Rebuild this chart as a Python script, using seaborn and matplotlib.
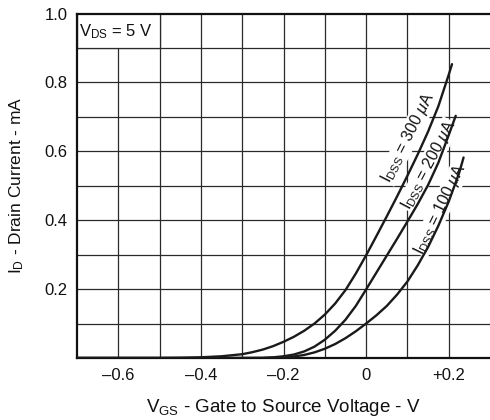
import matplotlib
matplotlib.use("Agg")
import matplotlib.pyplot as plt
import seaborn as sns
import pandas as pd
from matplotlib.patches import Rectangle

# ---- data ----
vgs_300 = [-0.70, -0.50, -0.45, -0.40, -0.35, -0.30, -0.275, -0.25, -0.225, -0.20, -0.175, -0.15,
           -0.125, -0.10, -0.075, -0.05, -0.025, 0.0, 0.025, 0.05, 0.075, 0.10, 0.125, 0.15,
           0.175, 0.20, 0.208]
id_300 = [0.0, 0.0, 0.0005, 0.002, 0.005, 0.011, 0.017, 0.0245, 0.0345, 0.047, 0.0615, 0.079,
          0.100, 0.126, 0.158, 0.197, 0.245, 0.298, 0.354, 0.411, 0.469, 0.529, 0.591, 0.657,
          0.731, 0.822, 0.853]

vgs_200 = [-0.70, -0.30, -0.25, -0.225, -0.20, -0.175, -0.15, -0.125, -0.10, -0.075, -0.05,
           -0.025, 0.0, 0.025, 0.05, 0.075, 0.10, 0.125, 0.15, 0.175, 0.20, 0.217]
id_200 = [0.0, 0.0, 0.0005, 0.002, 0.005, 0.010, 0.019, 0.033, 0.053, 0.079, 0.111,
          0.151, 0.199, 0.248, 0.297, 0.346, 0.396, 0.447, 0.502, 0.567, 0.647, 0.703]

vgs_100 = [-0.70, -0.25, -0.225, -0.20, -0.175, -0.15, -0.125, -0.10, -0.075, -0.05, -0.025,
           0.0, 0.025, 0.05, 0.075, 0.10, 0.125, 0.15, 0.175, 0.20, 0.225, 0.236]
id_100 = [0.0, 0.0, 0.0008, 0.0023, 0.0043, 0.0088, 0.0163, 0.0268, 0.0405, 0.0575, 0.0775,
          0.100, 0.124, 0.151, 0.184, 0.222, 0.269, 0.322, 0.384, 0.454, 0.536, 0.582]

curve_labels = ["300", "200", "100"]
label_pos_v = [0.101, 0.151, 0.179]
label_pos_i = [0.640, 0.560, 0.432]
label_rot = [63, 62, 64]

x_ticks = [-0.6, -0.4, -0.2, 0.0, 0.2]
x_ticklabels = ["\u20130.6", "\u20130.4", "\u20130.2", "0", "+0.2"]
y_ticks = [0.2, 0.4, 0.6, 0.8, 1.0]
y_ticklabels = ["0.2", "0.4", "0.6", "0.8", "1.0"]

# ---- build long table ----
frames = []
for name, v, i in [("300", vgs_300, id_300), ("200", vgs_200, id_200), ("100", vgs_100, id_100)]:
    frames.append(pd.DataFrame({"VGS": v, "ID": i, "IDSS": name}))
df = pd.concat(frames, ignore_index=True)

sns.set_theme(style="white")
plt.rcParams["font.family"] = ["Liberation Sans", "DejaVu Sans"]
plt.rcParams["mathtext.fontset"] = "custom"
plt.rcParams["mathtext.rm"] = "Liberation Sans"
plt.rcParams["mathtext.it"] = "Liberation Sans:italic"
plt.rcParams["mathtext.bf"] = "Liberation Sans:bold"

fig = plt.figure(figsize=(4.9, 4.2), dpi=100)
ax = fig.add_axes([77 / 490, 1 - 358 / 420, 1 - 77 / 490, (358 - 13.5) / 420])

sns.lineplot(data=df, x="VGS", y="ID", hue="IDSS", units="IDSS", estimator=None,
             palette={"300": "#1a1a1a", "200": "#1a1a1a", "100": "#1a1a1a"},
             linewidth=1.7, legend=False, sort=False, ax=ax, zorder=4)

ax.set_xlim(-0.7, 0.3)
ax.set_ylim(0, 1.0)

# grid every 0.1
for gx in [-0.6, -0.5, -0.4, -0.3, -0.2, -0.1, 0.0, 0.1, 0.2]:
    ax.axvline(gx, color="#2a2a2a", lw=0.9, zorder=1)
for gy in [0.1, 0.2, 0.3, 0.4, 0.5, 0.6, 0.7, 0.8, 0.9]:
    ax.axhline(gy, color="#2a2a2a", lw=0.9, zorder=1)

ax.set_xticks(x_ticks)
ax.set_xticklabels(x_ticklabels)
ax.set_yticks(y_ticks)
ax.set_yticklabels(y_ticklabels)
ax.tick_params(length=0, pad=7, labelsize=12, colors="#111111")

for s in ["left", "bottom", "top"]:
    ax.spines[s].set_visible(True)
    ax.spines[s].set_linewidth(1.6)
    ax.spines[s].set_color("#111111")
ax.spines["right"].set_visible(False)

ax.set_xlabel(r"V$_{\rm GS}$ - Gate to Source Voltage - V", fontsize=13.5, labelpad=10, color="#111111")
ax.set_ylabel(r"I$_{\rm D}$ - Drain Current - mA", fontsize=12.5, labelpad=13, color="#111111")

# condition box
ax.add_patch(Rectangle((-0.7, 0.9), 0.2, 0.1, facecolor="white", edgecolor="#2a2a2a",
                       lw=0.9, zorder=2))
ax.text(-0.696, 0.948, r"V$_{\rm DS}$ = 5 V", fontsize=12, va="center", ha="left",
        zorder=3, color="#111111")

for lab, lv, li, rot in zip(curve_labels, label_pos_v, label_pos_i, label_rot):
    ax.text(lv, li, r"I$_{\rm DSS}$ = " + lab + r" $\mu$A", rotation=rot, rotation_mode="anchor",
            ha="center", va="center", fontsize=11.5, color="#111111", zorder=3,
            bbox=dict(facecolor="white", edgecolor="none", pad=0.5))

fig.savefig("out.png", dpi=100)
